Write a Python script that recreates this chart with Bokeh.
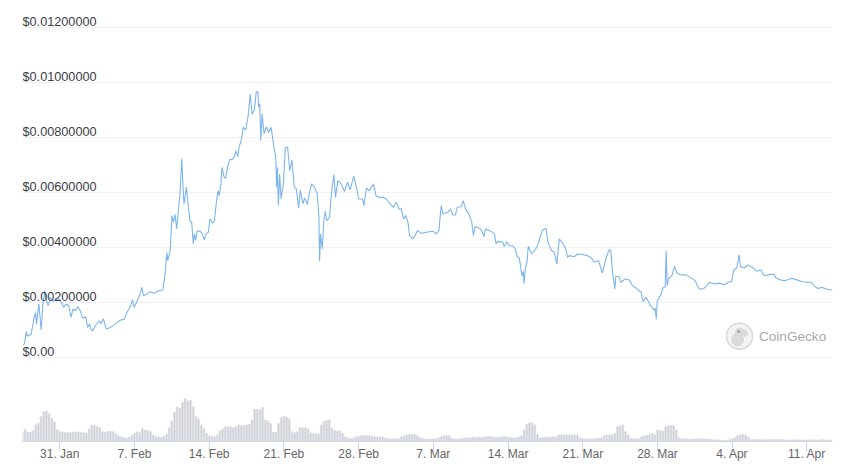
from bokeh.embed import file_html
from bokeh.resources import INLINE
from bokeh.plotting import figure
from bokeh.models import Range1d, FixedTicker, ColumnDataSource, Label
from bokeh.core.properties import value

FONT = "Liberation Sans"

tick_days = [0, 7, 14, 21, 28, 35, 42, 49, 56, 63, 70]
tick_labels = ["31. Jan", "7. Feb", "14. Feb", "21. Feb", "28. Feb", "7. Mar", "14. Mar", "21. Mar", "28. Mar", "4. Apr", "11. Apr"]
price_ticks = [0, 0.002, 0.004, 0.006, 0.008, 0.010, 0.012]
price_tick_labels = ["$0.00", "$0.00200000", "$0.00400000", "$0.00600000", "$0.00800000", "$0.01000000", "$0.01200000"]

# days since 31 Jan
price_day = [-3.42,-3.30,-3.14,-3.05,-2.68,-2.43,-2.27,-2.18,-1.96,-1.87,-1.74,-1.59,-1.40,-1.28,-1.09,-0.87,-0.65,-0.40,0,0.37,0.59,0.84,1.06,1.24,1.43,1.68,1.93,2.15,2.43,2.61,2.80,2.92,3.08,3.33,3.70,3.89,4.08,4.36,4.73,5.20,5.66,6.04,6.28,6.66,6.81,6.97,7.22,7.59,7.69,7.84,8.15,8.46,8.84,9.24,9.65,
 9.87,10.03,10.12,10.34,10.52,10.65,10.80,10.96,11.11,11.27,11.43,11.55,11.64,11.86,12.05,12.20,12.36,12.51,12.61,12.73,12.86,13.14,13.36,13.54,13.70,13.92,14.07,14.32,14.48,14.69,14.82,14.94,15.10,15.19,15.38,15.53,15.72,15.94,16.12,16.34,16.50,16.68,16.81,17.03,17.18,17.43,17.65,17.84,18.02,18.24,18.40,18.55,18.64,18.74,18.83,18.96,19.14,19.36,19.58,19.80,20.04,20.23,20.32,20.39,20.48,20.60,20.73,20.95,21.13,21.35,21.54,21.75,21.97,22.16,22.38,22.53,22.78,22.94,23.19,23.40,23.59,23.87,24.12,24.28,24.34,24.43,24.59,24.74,24.87,25.02,25.27,25.46,25.68,25.83,26.05,26.36,26.67,26.95,27.20,27.54,27.76,28.01,28.38,28.48,28.73,29.00,29.38,29.63,29.94,30.25,
 30.59,30.90,31.28,31.53,31.78,32.0,32.21,32.40,32.62,32.77,33.08,33.55,33.86,34.33,34.95,35.27,35.52,35.73,35.89,36.36,36.61,36.82,37.07,37.23,37.60,37.79,38.01,38.32,38.60,38.75,38.91,39.32,39.53,39.75,39.88,40.25,40.72,40.87,41.03,41.50,41.65,41.87,42.12,42.43,42.68,42.84,43.05,43.30,43.43,43.49,43.61,43.77,43.89,44.21,44.46,44.77,44.99,45.23,45.55,45.73,46.08,46.33,46.57,46.79,47.10,47.41,47.57,47.73,48.19,48.50,48.97,49.44,49.75,50.06,50.47,50.84,51.15,51.47,51.62,51.78,52.0,52.09,52.40,52.56,52.97,53.33,53.65,53.96,
 54.47,54.63,54.94,55.35,55.66,55.78,55.88,55.97,56.34,56.53,56.72,56.81,56.90,57.03,57.34,57.59,57.84,58.21,58.68,59.08,59.52,59.83,60.08,60.39,60.61,60.86,61.33,61.79,62.26,62.63,62.95,63.13,63.41,63.66,63.76,64.13,64.44,64.91,65.28,65.69,66.0,66.47,66.87,67.09,67.56,67.96,68.34,68.65,69.12,69.58,69.96,70.36,70.67,70.98,71.45,71.92,72.38]

# price in thousandths of a dollar
price_milli = [0.47,0.52,0.96,0.79,0.86,1.41,1.65,1.23,1.96,1.59,1.02,1.90,2.44,2.14,1.90,2.20,2.05,2.14,2.14,1.84,1.96,1.90,1.47,1.78,1.71,1.86,1.71,1.45,1.50,1.11,1.23,1.05,0.98,1.17,1.35,1.25,1.43,1.05,1.11,1.23,1.37,1.41,1.65,1.90,2.12,1.84,2.05,2.38,2.57,2.26,2.32,2.41,2.35,2.44,2.47,
 3.05,3.84,3.54,3.90,5.18,4.93,5.21,4.69,5.36,5.96,7.24,6.21,5.60,6.21,5.48,4.99,4.93,4.15,4.51,4.27,4.61,4.61,4.51,4.29,4.51,4.57,5.05,4.90,4.97,5.72,6.08,5.90,6.33,6.93,6.59,6.53,6.96,7.24,7.20,7.30,7.54,7.32,7.68,7.96,8.39,8.29,8.81,9.60,8.87,9.02,9.66,9.70,9.12,9.24,7.90,8.87,8.15,8.41,8.21,8.39,7.72,7.30,6.21,6.93,5.54,6.69,5.78,6.33,7.64,7.66,6.81,7.20,6.21,6.15,5.45,6.11,5.60,5.82,5.58,6.02,6.33,6.21,5.96,5.12,3.52,4.51,3.96,4.99,5.33,4.99,5.12,6.02,6.67,5.84,6.45,6.33,6.06,6.39,6.11,6.61,6.27,5.78,5.78,5.54,6.18,6.08,6.33,5.90,5.84,5.84,
 5.78,5.62,5.48,5.66,5.42,5.42,5.05,5.18,4.93,4.45,4.33,4.63,4.53,4.57,4.61,4.51,4.63,5.54,5.24,5.30,5.42,5.20,5.20,5.48,5.50,5.72,5.42,5.24,4.93,4.45,4.78,4.72,4.63,4.41,4.69,4.63,4.53,4.15,4.24,4.21,4.05,4.23,4.08,4.08,3.96,3.68,3.64,2.99,3.15,2.69,3.24,3.48,4.06,3.78,3.90,4.08,4.39,4.65,4.72,4.21,3.90,3.84,3.42,4.33,4.18,3.96,3.66,3.72,3.68,3.78,3.76,3.72,3.66,3.48,3.54,3.09,3.60,3.94,3.90,3.12,2.51,2.96,2.96,2.75,2.87,2.84,2.63,2.55,
 2.38,2.05,2.20,1.90,1.74,1.81,1.41,2.08,2.32,2.57,2.57,3.90,2.63,2.87,2.99,3.33,3.08,3.02,3.02,2.93,2.81,2.54,2.50,2.54,2.63,2.75,2.69,2.72,2.66,2.75,2.78,3.20,3.27,3.74,3.32,3.27,3.38,3.29,3.15,3.20,2.99,3.03,3.05,2.91,2.83,2.81,2.87,2.89,2.83,2.77,2.75,2.75,2.63,2.53,2.56,2.50,2.47]

# one value per quarter day, starting 3.5 days before 31 Jan
volume_start_day = -3.5
volume = [28,38,29,28,33,50,55,75,90,92,84,70,60,36,30,
 29,28,28,27,29,29,29,28,27,26,38,50,48,46,42,30,28,31,31,30,25,18,15,12,11,14,18,25,29,27,40,35,33,30,20,15,14,13,15,22,42,62,88,104,100,118,130,122,124,104,75,68,50,40,25,17,16,15,20,32,38,45,45,45,42,44,50,48,48,50,52,65,97,97,97,103,65,62,55,28,28,55,72,76,74,68,30,27,30,42,42,43,38,26,25,24,23,50,60,64,66,40,33,32,32,25,15,11,9,10,14,16,17,18,18,18,17,15,15,14,14,11,10,8,8,8,9,14,17,20,22,22,20,18,
 12,9,8,8,7,8,9,12,15,18,18,18,10,8,8,9,10,12,12,11,13,13,14,13,15,15,16,15,13,12,14,14,15,13,13,11,12,14,18,35,52,57,56,50,22,12,12,13,13,14,14,14,20,21,21,20,20,20,20,20,12,9,8,8,8,9,10,11,11,18,20,20,21,25,45,48,50,30,20,10,8,8,9,15,17,19,20,25,22,35,34,32,45,48,48,48,35,12,9,8,8,7,8,8,9,9,8,8,7,7,6,6,5,4,4,5,6,8,12,18,20,22,20,14,7,7,6,6,6,6,6,7,7,6,7,6,6,5,5,5,5,6,5,5,5,5,5,6,5,5,6,6,5,5,5]

volume_day = [volume_start_day + i * 0.25 for i in range(len(volume))]
price_usd = [v / 1000 for v in price_milli]

p = figure(width=849, height=472, output_backend="svg", toolbar_location=None,
           x_range=Range1d(-3.49, 72.39), y_range=Range1d(-0.00304, 0.012636),
           min_border_left=22, min_border_right=17, min_border_top=10, min_border_bottom=31,
           background_fill_color="white", border_fill_color="white")
p.outline_line_color = None
p.yaxis.visible = False
p.xgrid.visible = False
p.ygrid.ticker = FixedTicker(ticks=price_ticks)
p.ygrid.grid_line_color = "#f0f0f2"
p.ygrid.grid_line_width = 1

ax = p.xaxis[0]
ax.ticker = FixedTicker(ticks=tick_days)
ax.major_label_overrides = dict(zip(tick_days, tick_labels))
ax.axis_line_color = "#ccd6eb"
ax.major_tick_line_color = "#ccd6eb"
ax.major_tick_in = 0
ax.major_tick_out = 10
ax.minor_tick_line_color = None
ax.major_label_text_font = FONT
ax.major_label_text_font_size = "12px"
ax.major_label_text_color = "#666666"
ax.major_label_standoff = -5

p.extra_y_ranges = {"vol": Range1d(0, 1293)}
vsrc = ColumnDataSource(dict(x=volume_day, top=volume))
p.vbar(x="x", top="top", bottom=0, width=0.26, source=vsrc, y_range_name="vol",
       fill_color="#e0e2e6", line_color=None)
p.vbar(x="x", top="top", bottom=0, width=0.09, source=vsrc, y_range_name="vol",
       fill_color="#cbced4", line_color=None)

p.line(price_day, price_usd, line_color="#7cb5ec", line_width=1.1)

p.text(x=[-3.49] * len(price_ticks), y=price_ticks, text=price_tick_labels,
       text_font=value(FONT), text_font_size="12.7px", text_color="#3c3c46",
       text_baseline="bottom", text_align="left", y_offset=1)

# watermark
p.scatter([63.68], [0.00079], size=26, marker="circle", fill_color="#f4f4f4",
          line_color="#d9d9d9", line_width=1.5)
p.scatter([63.5], [0.00066], size=13, marker="circle", fill_color="#dadada", line_color=None)
p.scatter([63.72], [0.00092], size=10, marker="circle", fill_color="#dadada", line_color=None)
p.scatter([64.15], [0.00090], size=7, marker="circle", fill_color="#dadada", line_color=None)
p.scatter([63.6], [0.00096], size=2.5, marker="circle", fill_color="#999999", line_color=None)
p.add_layout(Label(x=65.5, y=0.00079, text="CoinGecko", text_font=FONT, text_font_size="13.6px",
                   text_color="#a9a9a9", text_baseline="middle"))

open("out.html", "w").write(file_html(p, INLINE))
